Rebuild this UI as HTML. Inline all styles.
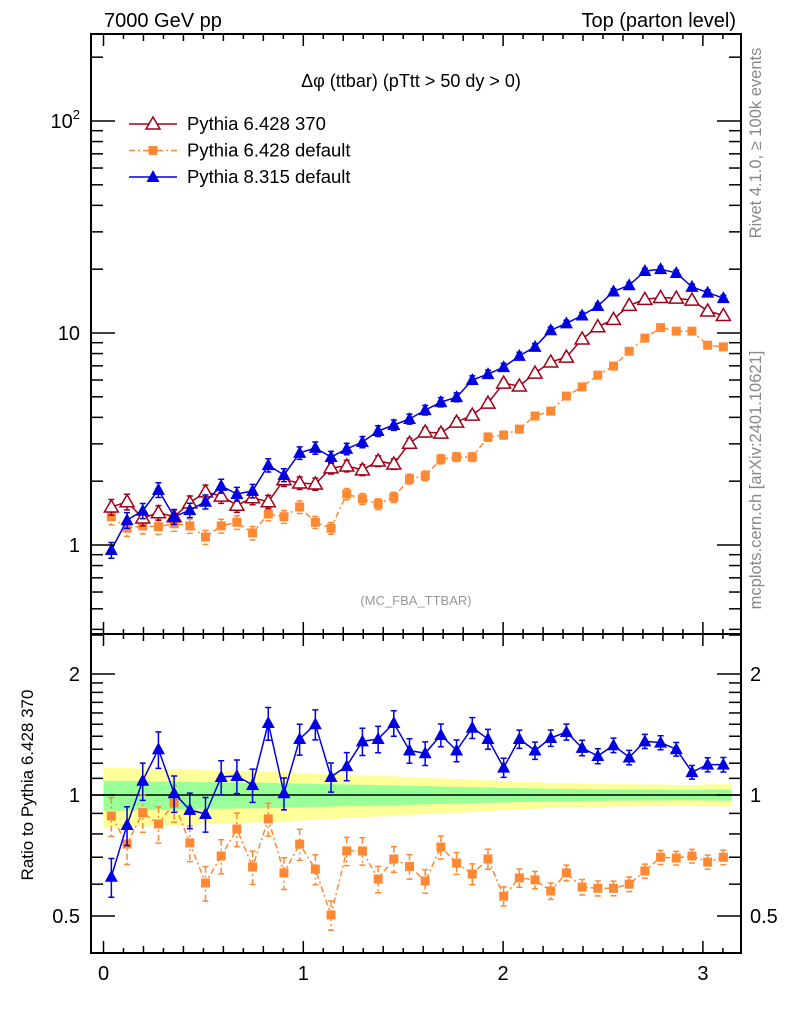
<!DOCTYPE html>
<html><head><meta charset="utf-8">
<style>
html,body{margin:0;padding:0;background:#fff;}
svg{display:block;font-family:"Liberation Sans",sans-serif;}
</style></head>
<body>
<svg id="plot" width="786" height="1024" viewBox="0 0 786 1024" xmlns="http://www.w3.org/2000/svg">
<text x="104" y="27" font-size="20">7000 GeV pp</text>
<text x="736" y="27" font-size="20" text-anchor="end">Top (parton level)</text>
<text x="411" y="87" font-size="18" text-anchor="middle">Δφ (ttbar) (pTtt &gt; 50 dy &gt; 0)</text>
<text x="416" y="605" font-size="13" fill="#999" text-anchor="middle">(MC_FBA_TTBAR)</text>
<text transform="translate(761,143) rotate(-90)" font-size="16.5" fill="#888" text-anchor="middle">Rivet 4.1.0, ≥ 100k events</text>
<text transform="translate(761,480) rotate(-90)" font-size="16.5" fill="#888" text-anchor="middle">mcplots.cern.ch [arXiv:2401.10621]</text>
<text transform="translate(33,785) rotate(-90)" font-size="17" text-anchor="middle">Ratio to Pythia 6.428 370</text>
<g id="g"></g>
</svg>
<script>
const xTicks=[0,1,2,3];
const mainTicks=[1,10,100];
const ratioTicks=[0.5,1,2];
const nBins=40;
const red=[1.51,1.60,1.34,1.42,1.36,1.58,1.78,1.70,1.54,1.67,1.60,2.03,1.96,1.94,2.31,2.36,2.26,2.49,2.41,3.02,3.41,3.37,3.80,4.10,4.67,5.80,5.62,6.47,7.30,7.70,9.37,10.7,11.6,13.5,14.4,14.7,14.6,14.3,12.7,12.1];
const blue=[0.947,1.31,1.45,1.82,1.36,1.46,1.60,1.90,1.74,1.80,2.38,2.14,2.72,2.87,2.60,2.84,3.06,3.45,3.68,3.93,4.33,4.72,4.98,6.0,6.4,6.9,7.8,8.6,10.3,11.1,12.1,13.4,15.7,16.8,19.6,20.0,19.2,16.5,15.5,14.6];
const orange=[1.36,1.20,1.23,1.22,1.26,1.23,1.09,1.23,1.28,1.14,1.40,1.36,1.51,1.28,1.20,1.74,1.65,1.56,1.68,2.05,2.12,2.54,2.60,2.60,3.23,3.30,3.52,4.06,4.28,5.04,5.57,6.33,6.98,8.2,9.46,10.6,10.2,10.2,8.76,8.6];
const blueRatio=[0.626,0.842,1.085,1.30,1.01,0.918,0.897,1.109,1.115,1.059,1.51,1.01,1.378,1.50,1.109,1.18,1.36,1.378,1.51,1.29,1.27,1.41,1.29,1.47,1.378,1.17,1.378,1.29,1.386,1.435,1.31,1.25,1.33,1.24,1.36,1.35,1.30,1.14,1.19,1.19];
const orangeRatio=[0.887,0.755,0.904,0.847,0.955,0.76,0.604,0.705,0.823,0.662,0.872,0.64,0.755,0.654,0.503,0.726,0.726,0.618,0.693,0.664,0.611,0.742,0.677,0.636,0.693,0.56,0.622,0.615,0.577,0.64,0.59,0.586,0.586,0.60,0.647,0.70,0.697,0.705,0.681,0.70];
const relErr=[0.085,0.085,0.082,0.08,0.08,0.078,0.076,0.075,0.074,0.073,0.072,0.07,0.068,0.066,0.064,0.062,0.06,0.058,0.056,0.054,0.052,0.05,0.048,0.046,0.044,0.042,0.04,0.038,0.036,0.035,0.034,0.033,0.032,0.032,0.031,0.031,0.03,0.03,0.031,0.032];

const NS='http://www.w3.org/2000/svg';
const G=document.getElementById('g');
const L=91,R=741,T=34,M=634,B=953;
const X=v=>103.5+v*199.8;
const Y=v=>545-212*Math.log10(v);
const YR=v=>795-121*Math.log2(v);
const binW=Math.PI/nBins;
const xc=i=>X((i+0.5)*binW);
function el(tag,attrs,parent){const e=document.createElementNS(NS,tag);for(const k in attrs)e.setAttribute(k,attrs[k]);(parent||G).appendChild(e);return e;}

const bands=el('g',{});


for(let i=0;i<nBins;i++){
  const x0=X(i*binW),x1=X((i+1)*binW)+0.5;
  const y1=el('rect',{x:x0,y:YR(1+2*relErr[i]),width:x1-x0,height:YR(1-2*relErr[i])-YR(1+2*relErr[i]),fill:'#ffff99'},bands);
  
  
  const g1=el('rect',{x:x0,y:YR(1+relErr[i]),width:x1-x0,height:YR(1-relErr[i])-YR(1+relErr[i]),fill:'#99ff99'},bands);
  
  
}
const one=el('line',{x1:L,x2:R,y1:YR(1),y2:YR(1),stroke:'#000','stroke-width':1.5});



function series(vals,errs,yf,color,marker,dash,name){
  const g=el('g',{});
  
  
  let d='';
  vals.forEach((v,i)=>{d+=(i?'L':'M')+xc(i).toFixed(1)+','+yf(v).toFixed(1);});
  const p=el('path',{d:d,fill:'none',stroke:color,'stroke-width':1.5,'stroke-dasharray':dash||'none'},g);
  
  
  vals.forEach((v,i)=>{
    const x=xc(i),e=errs[i]*v;
    const ya=yf(v+e),yb=yf(Math.max(v-e,1e-3));
    const eb=el('path',{d:`M${x},${ya}L${x},${yb}M${x-3},${ya}L${x+3},${ya}M${x-3},${yb}L${x+3},${yb}`,stroke:color,'stroke-width':1.5,'stroke-dasharray':dash||'none'},g);
    
    
    const y=yf(v);let m;
    if(marker==='tri-open')m=el('polygon',{points:`${x},${y-7} ${x-7},${y+5} ${x+7},${y+5}`,fill:'#fff',stroke:color,'stroke-width':1.5},g);
    else if(marker==='tri')m=el('polygon',{points:`${x},${y-7} ${x-6.5},${y+5} ${x+6.5},${y+5}`,fill:color},g);
    else m=el('rect',{x:x-4.5,y:y-4.5,width:9,height:9,fill:color},g);
    
    
  });
}
const e1=relErr, e2=relErr.map(v=>v*1.3);
series(orange,e1,Y,'#ff8833','sq','6,3,2,3','series-pythia6-default');
series(red,e1,Y,'#a00018','tri-open',null,'series-pythia6-370');
series(blue,e1,Y,'#0000e0','tri',null,'series-pythia8-default');
series(orangeRatio,e2,YR,'#ff8833','sq','6,3,2,3','ratio-pythia6-default');
series(blueRatio,e2,YR,'#0000e0','tri',null,'ratio-pythia8-default');

const f1=el('rect',{x:L,y:T,width:R-L,height:M-T,fill:'none',stroke:'#000','stroke-width':2});


const f2=el('rect',{x:L,y:M,width:R-L,height:B-M,fill:'none',stroke:'#000','stroke-width':2});



const xt=el('g',{stroke:'#000','stroke-width':1.5});


for(let k=0;k<=31;k++){
  const v=k/10,x=X(v),len=(k%10===0)?12:(k%2===0?7:5);
  [T,M].forEach(y0=>el('line',{x1:x,x2:x,y1:y0,y2:y0+len},xt));
  [M,B].forEach(y0=>el('line',{x1:x,x2:x,y1:y0,y2:y0-len},xt));
}
xTicks.forEach(v=>{const t=el('text',{x:X(v),y:980,'font-size':20,'text-anchor':'middle'});t.textContent=v;

});

const yt=el('g',{stroke:'#000','stroke-width':1.5});


for(let dec=-1;dec<=2;dec++)for(let m=1;m<=9;m++){
  const v=m*Math.pow(10,dec),y=Y(v);if(y<T||y>M)continue;
  const len=m===1?24:12;
  el('line',{x1:L,x2:L+len,y1:y,y2:y},yt);el('line',{x1:R,x2:R-len,y1:y,y2:y},yt);
}
mainTicks.forEach(v=>{
  const t=el('text',{x:80,y:Y(v)+7,'font-size':20,'text-anchor':'end'});
  
  
  if(v===100){t.textContent='10';const s=el('tspan',{dy:-9,'font-size':13},t);s.textContent='2';}
  else t.textContent=v;
});
const rv=[0.4,0.5,0.6,0.7,0.8,0.9,1,1.1,1.2,1.3,1.4,1.5,1.6,1.7,1.8,1.9,2,2.5];
rv.forEach(v=>{const y=YR(v);if(y<M||y>B)return;const len=(v===0.5||v===1||v===2)?24:12;
  el('line',{x1:L,x2:L+len,y1:y,y2:y},yt);el('line',{x1:R,x2:R-len,y1:y,y2:y},yt);});
ratioTicks.forEach(v=>{
  const t=el('text',{x:80,y:YR(v)+7,'font-size':20,'text-anchor':'end'});t.textContent=v;
  
  
  const t2=el('text',{x:750,y:YR(v)+7,'font-size':20});t2.textContent=v;
  
  
});

const leg=el('g',{});


const items=[['Pythia 6.428 370','#a00018','tri-open',null],['Pythia 6.428 default','#ff8833','sq','6,3,2,3'],['Pythia 8.315 default','#0000e0','tri',null]];
items.forEach((it,k)=>{
  const y=124+k*26.5,x=153;
  const gi=el('g',{},leg);
  
  
  el('line',{x1:129,x2:177,y1:y,y2:y,stroke:it[1],'stroke-width':1.5,'stroke-dasharray':it[3]||'none'},gi);
  if(it[2]==='tri-open')el('polygon',{points:`${x},${y-7} ${x-7},${y+5} ${x+7},${y+5}`,fill:'#fff',stroke:it[1],'stroke-width':1.5},gi);
  else if(it[2]==='tri')el('polygon',{points:`${x},${y-7} ${x-6.5},${y+5} ${x+6.5},${y+5}`,fill:it[1]},gi);
  else el('rect',{x:x-4.5,y:y-4.5,width:9,height:9,fill:it[1]},gi);
  const t=el('text',{x:187,y:y+6,'font-size':18.5},gi);t.textContent=it[0];
});
</script>
</body></html>
